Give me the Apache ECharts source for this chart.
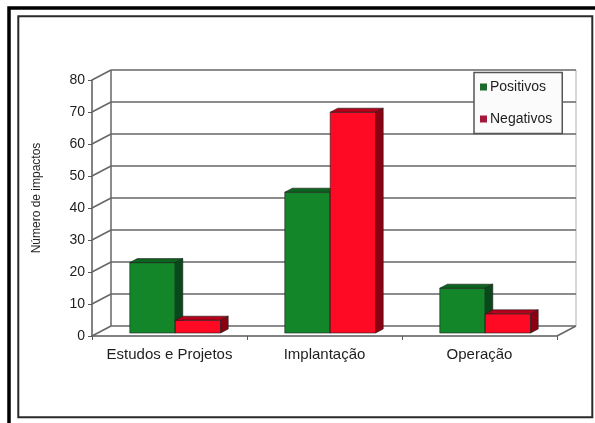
<!DOCTYPE html>
<html>
<head>
<meta charset="utf-8">
<script src="https://cdn.jsdelivr.net/npm/echarts@6/dist/echarts.min.js"></script>
<style>
  html, body { margin: 0; padding: 0; background: #ffffff; }
  #chart { width: 595px; height: 423px; }
</style>
</head>
<body>
<div id="chart"></div>
<script>
// Impact counts per project phase
const categories = ['Estudos e Projetos', 'Implantação', 'Operação'];
const positivos = [22, 44, 14];
const negativos = [4, 69, 6];
const yTicks = [0, 10, 20, 30, 40, 50, 60, 70, 80];

// Pseudo-3D geometry: wall depth vector and bar placement inside it
const DEPTH = { x: 19, y: -10 };
const BAR_FRONT = 0.3;   // fraction of depth where bar front faces sit
const BAR_BACK = 0.7;    // fraction of depth where bar back faces sit
const BAR_RATIO = 0.293; // single bar width relative to category band

const GREEN = { front: '#14862a', top: '#0c6420', side: '#08481a' };
const RED = { front: '#ff0a24', top: '#b5001a', side: '#8c0012' };

const chart = echarts.init(document.getElementById('chart'));

function wallsItem(params, api) {
  const cs = params.coordSys;
  const xL = cs.x, xR = cs.x + cs.width;
  const p = api.coord([0, api.value(0)]);
  const y = p[1];
  const children = [
    { type: 'line', shape: { x1: xL, y1: y, x2: xL + DEPTH.x, y2: y + DEPTH.y },
      style: { stroke: '#666666', lineWidth: 1.5 } },
    { type: 'line', shape: { x1: xL + DEPTH.x, y1: y + DEPTH.y, x2: xR + DEPTH.x, y2: y + DEPTH.y },
      style: { stroke: '#666666', lineWidth: 1.5 } }
  ];
  if (params.dataIndex === 0) {
    const yTop = api.coord([0, yTicks[yTicks.length - 1]])[1];
    children.push(
      { type: 'line', shape: { x1: xL + DEPTH.x, y1: y + DEPTH.y, x2: xL + DEPTH.x, y2: yTop + DEPTH.y },
        style: { stroke: '#666666', lineWidth: 1.5 } },
      { type: 'line', shape: { x1: xR + DEPTH.x, y1: y + DEPTH.y, x2: xR + DEPTH.x, y2: yTop + DEPTH.y },
        style: { stroke: '#b0b0b0', lineWidth: 1 } },
      { type: 'line', shape: { x1: xR, y1: y, x2: xR + DEPTH.x, y2: y + DEPTH.y },
        style: { stroke: '#666666', lineWidth: 1.5 } }
    );
  }
  return { type: 'group', children: children };
}

function barRenderer(side, colors) {
  return function (params, api) {
    const cat = api.value(0);
    const val = api.value(1);
    const base = api.coord([cat, 0]);
    const top = api.coord([cat, val]);
    const band = api.size([1, 0])[0];
    const w = band * BAR_RATIO;
    const fx = BAR_FRONT * DEPTH.x, fy = BAR_FRONT * DEPTH.y;
    const ddx = (BAR_BACK - BAR_FRONT) * DEPTH.x, ddy = (BAR_BACK - BAR_FRONT) * DEPTH.y;
    const x0 = base[0] + fx + (side < 0 ? -w : 0);
    const x1 = x0 + w;
    const yb = base[1] + fy;
    const yt = top[1] + fy;
    const edge = { stroke: '#1c1c1c', lineWidth: 0.6 };
    return {
      type: 'group',
      children: [
        { type: 'polygon', shape: { points: [[x0, yb], [x1, yb], [x1, yt], [x0, yt]] },
          style: Object.assign({ fill: colors.front }, edge) },
        { type: 'polygon', shape: { points: [[x0, yt], [x1, yt], [x1 + ddx, yt + ddy], [x0 + ddx, yt + ddy]] },
          style: Object.assign({ fill: colors.top }, edge) },
        { type: 'polygon', shape: { points: [[x1, yt], [x1 + ddx, yt + ddy], [x1 + ddx, yb + ddy], [x1, yb]] },
          style: Object.assign({ fill: colors.side }, edge) }
      ]
    };
  };
}

const option = {
  backgroundColor: '#ffffff',
  animation: false,
  textStyle: { fontFamily: 'Liberation Sans, Arial, sans-serif', color: '#1e1e1e' },
  grid: { left: 92, right: 38, top: 80, bottom: 87 },
  legend: {
    left: 474, top: 72.5,
    orient: 'vertical',
    itemWidth: 7, itemHeight: 7,
    itemGap: 18,
    padding: [7.5, 10, 7.5, 6],
    borderColor: '#555555', borderWidth: 1.5,
    backgroundColor: '#fbfbfb',
    textStyle: { fontSize: 14, color: '#1e1e1e', fontFamily: 'Liberation Sans, Arial, sans-serif',
                 padding: [0, 0, 0, -2] },
    data: [
      { name: 'Positivos', icon: 'rect', itemStyle: { color: '#1c6a2c' } },
      { name: 'Negativos', icon: 'rect', itemStyle: { color: '#a3173a' } }
    ]
  },
  xAxis: {
    type: 'category',
    data: categories,
    boundaryGap: true,
    axisLine: { show: true, lineStyle: { color: '#5a5a5a', width: 1.5 } },
    axisTick: { show: true, interval: 0, length: 4, inside: false, lineStyle: { color: '#5a5a5a' } },
    axisLabel: { interval: 0, fontSize: 15, margin: 11, color: '#1e1e1e' },
    splitLine: { show: false }
  },
  yAxis: {
    type: 'value',
    min: 0, max: 80, interval: 10,
    axisLine: { show: true, lineStyle: { color: '#5a5a5a', width: 1.5 } },
    axisTick: { show: true, length: 4, lineStyle: { color: '#5a5a5a' } },
    axisLabel: { fontSize: 14, margin: 7, color: '#1e1e1e' },
    splitLine: { show: false }
  },
  graphic: [
    { type: 'rect', shape: { x: 9, y: 8, width: 700, height: 500 },
      style: { fill: null, stroke: '#000000', lineWidth: 3.5 }, z: 100 },
    { type: 'rect', shape: { x: 18.3, y: 16.2, width: 574, height: 401 },
      style: { fill: null, stroke: '#2a2a2a', lineWidth: 2 }, z: 100 },
    { type: 'text', x: 37, y: 198, rotation: Math.PI / 2,
      style: { text: 'Número de impactos', fontSize: 12, fill: '#1e1e1e',
               fontFamily: 'Liberation Sans, Arial, sans-serif', align: 'center', verticalAlign: 'middle' } }
  ],
  series: [
    {
      type: 'custom',
      name: 'walls',
      renderItem: wallsItem,
      data: yTicks.map(v => [v]),
      encode: { y: 0 },
      silent: true,
      z: 1
    },
    {
      type: 'custom',
      name: 'Positivos',
      renderItem: barRenderer(-1, GREEN),
      data: positivos.map((v, i) => [i, v]),
      encode: { x: 0, y: 1 },
      itemStyle: { color: '#1c6a2c' },
      z: 3
    },
    {
      type: 'custom',
      name: 'Negativos',
      renderItem: barRenderer(1, RED),
      data: negativos.map((v, i) => [i, v]),
      encode: { x: 0, y: 1 },
      itemStyle: { color: '#a3173a' },
      z: 4
    }
  ]
};

chart.setOption(option);
</script>
</body>
</html>
